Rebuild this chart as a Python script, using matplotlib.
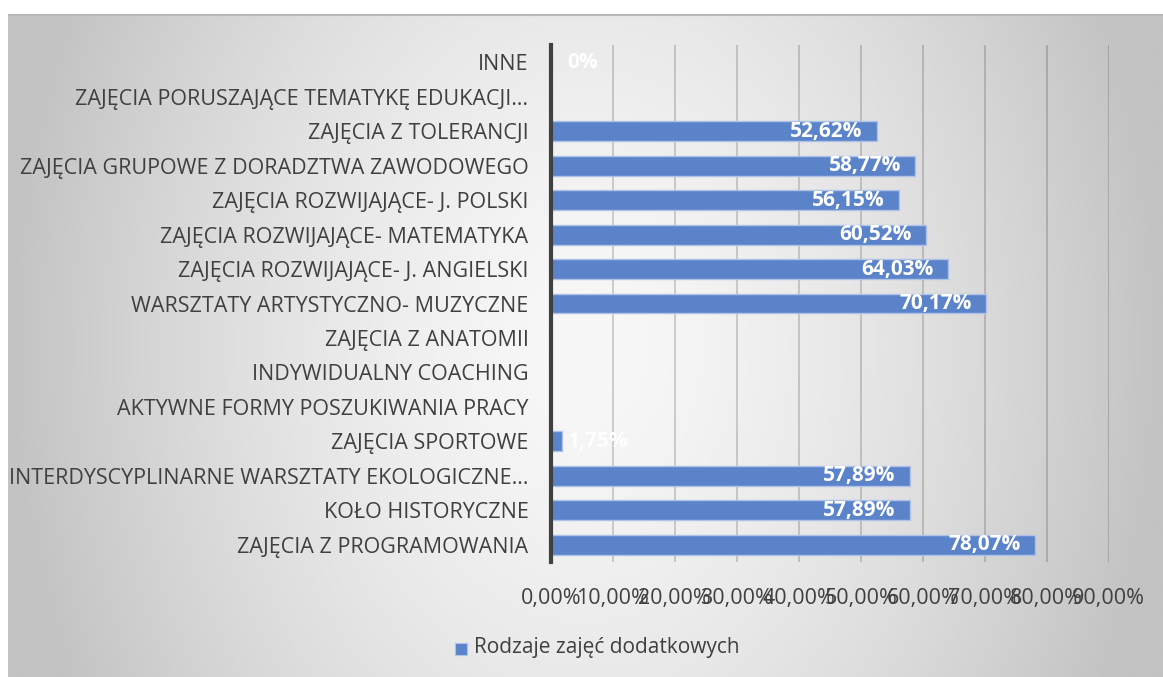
import numpy as np
import matplotlib
matplotlib.use("Agg")
import matplotlib.pyplot as plt

categories = [
    "ZAJĘCIA Z PROGRAMOWANIA",
    "KOŁO HISTORYCZNE",
    "INTERDYSCYPLINARNE WARSZTATY EKOLOGICZNE…",
    "ZAJĘCIA SPORTOWE",
    "AKTYWNE FORMY POSZUKIWANIA PRACY",
    "INDYWIDUALNY COACHING",
    "ZAJĘCIA Z ANATOMII",
    "WARSZTATY ARTYSTYCZNO- MUZYCZNE",
    "ZAJĘCIA ROZWIJAJĄCE- J. ANGIELSKI",
    "ZAJĘCIA ROZWIJAJĄCE- MATEMATYKA",
    "ZAJĘCIA ROZWIJAJĄCE- J. POLSKI",
    "ZAJĘCIA GRUPOWE Z DORADZTWA ZAWODOWEGO",
    "ZAJĘCIA Z TOLERANCJI",
    "ZAJĘCIA PORUSZAJĄCE TEMATYKĘ EDUKACJI…",
    "INNE",
]
values = [78.07, 57.89, 57.89, 1.75, None, None, None, 70.17, 64.03, 60.52, 56.15, 58.77, 52.62, None, 0.0]
xticks = [0, 10, 20, 30, 40, 50, 60, 70, 80, 90]
series_name = "Rodzaje zajęć dodatkowych"

plt.rcParams['font.family'] = ['Open Sans', 'DejaVu Sans']

W, H = 1163, 677
fig = plt.figure(figsize=(W / 100, H / 100), dpi=100)
fig.patch.set_facecolor("white")

# background gradient panel
bx0, by0 = 8 / W, 0.0
bw, bh = 1 - bx0, 1 - 14 / H
bg = fig.add_axes([bx0, by0, bw, bh], zorder=0)
nx, ny = 600, 340
xx, yy = np.meshgrid(np.linspace(-1, 1, nx), np.linspace(-1, 1, ny))
r = np.sqrt((xx * 1.0) ** 2 + 0.18 * (yy) ** 2)
r = np.clip(r, 0, 1)
light, dark = 0xf8 / 255, 0xc3 / 255
val = light - (light - dark) * r ** 1.5
img = np.dstack([val, val, val])
bg.imshow(img, aspect="auto", extent=[0, 1, 0, 1], interpolation="bilinear")
bg.plot([0, 1], [0.998, 0.998], color="#b8b8b8", lw=1.5, transform=bg.transAxes)
bg.set_xlim(0, 1); bg.set_ylim(0, 1)
bg.axis("off")

left, right = 550.7 / W, 1108.7 / W
top, bottom = 1 - 45 / H, 1 - 562 / H
ax = fig.add_axes([left, bottom, right - left, top - bottom], zorder=1)
ax.patch.set_alpha(0)

ypos = np.arange(len(categories))
vals = [v if v is not None else 0 for v in values]
ax.barh(ypos, vals, height=0.58, color="#5b83ca", edgecolor="#aec2e8", linewidth=1.0, zorder=3)

for y, v in zip(ypos, values):
    if v is None:
        continue
    txt = f"{v:.2f}%".replace(".", ",") if v > 0 else "0%"
    if v > 10:
        ax.text(v - 2.3, y, txt, ha="right", va="center", color="white",
                fontsize=15, fontweight="bold", zorder=4)
    else:
        ax.text(2.7, y, txt, ha="left", va="center", color="white",
                fontsize=15, fontweight="bold", zorder=4)

ax.set_xlim(0, 90)
ax.set_ylim(-0.5, len(categories) - 0.5)
ax.set_xticks(xticks)
ax.set_xticklabels([f"{t:.2f}%".replace(".", ",") for t in xticks], fontsize=15.5, color="#404040")
ax.set_yticks(ypos)
ax.set_yticklabels(categories, fontsize=15.5, color="#404040")
ax.tick_params(axis="both", length=0)
ax.tick_params(axis="y", pad=16)
ax.tick_params(axis="x", pad=19)
ax.grid(axis="x", color="black", alpha=0.18, lw=1.3, zorder=1)
ax.set_axisbelow(True)
for s in ["top", "right", "bottom"]:
    ax.spines[s].set_visible(False)
ax.spines["left"].set_color("#404040")
ax.spines["left"].set_linewidth(3)
ax.spines["left"].set_zorder(5)

# legend
fig.patches.append(plt.Rectangle((455 / W, 1 - 655 / H), 12 / W, 12 / H,
                                 transform=fig.transFigure, facecolor="#5b83ca",
                                 edgecolor="#aec2e8", lw=0.8, zorder=3))
fig.text(474 / W, 1 - 648 / H, series_name, ha="left", va="center",
         fontsize=15, color="#404040", zorder=3)

fig.savefig("out.png", dpi=100)
